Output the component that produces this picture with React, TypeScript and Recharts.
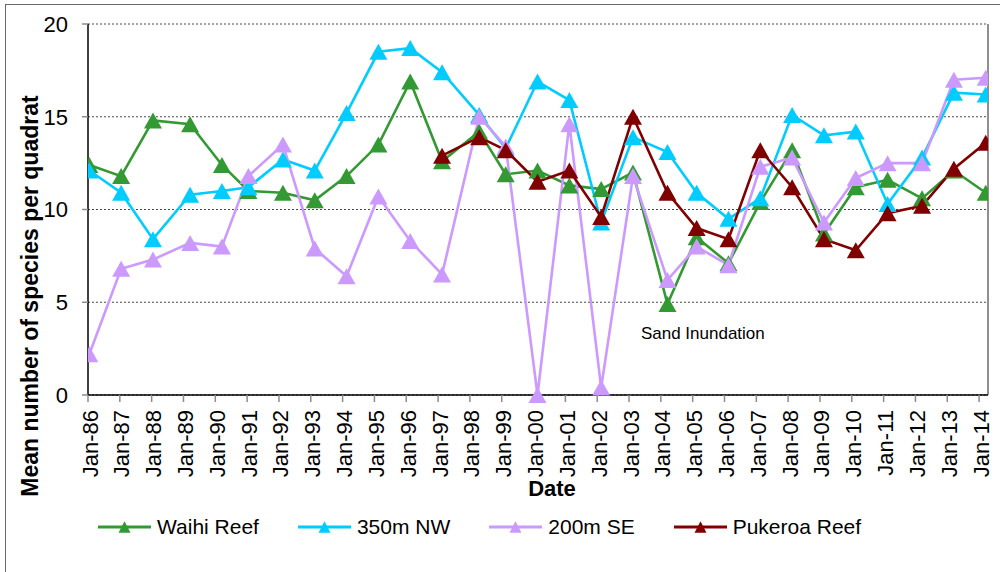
import React from 'react';
import { LineChart, Line, XAxis, YAxis, CartesianGrid, ReferenceLine, ReferenceDot } from 'recharts';

// Survey dates (YYYY-MM)
const surveyDates = [
  '1986-01', '1987-01', '1988-01', '1989-03', '1990-03', '1991-01', '1992-02', '1993-02',
  '1994-02', '1995-02', '1996-02', '1997-02', '1998-04', '1999-02', '2000-02', '2001-02',
  '2002-02', '2003-02', '2004-03', '2005-02', '2006-02', '2007-02', '2008-02', '2009-02',
  '2010-02', '2011-02', '2012-03', '2013-03', '2014-03',
];

const waihiReef = [12.4, 11.8, 14.8, 14.6, 12.4, 11.0, 10.9, 10.5, 11.8, 13.5, 16.9, 12.6, 14.2, 11.9, 12.1, 11.3, 11.1, 12.0, 4.9, 8.5, 7.1, 10.4, 13.2, 8.7, 11.2, 11.6, 10.6, 12.1, 10.9];
const nw350m = [12.1, 10.9, 8.4, 10.8, 11.0, 11.2, 12.7, 12.1, 15.2, 18.5, 18.7, 17.4, 15.1, 13.3, 16.9, 15.9, 9.3, 13.9, 13.1, 10.9, 9.5, 10.6, 15.1, 14.0, 14.2, 10.3, 12.8, 16.3, 16.2];
const se200m = [2.2, 6.8, 7.3, 8.2, 8.0, 11.8, 13.5, 7.9, 6.4, 10.7, 8.3, 6.5, 15.0, 13.4, 0.0, 14.6, 0.4, 11.8, 6.2, 8.0, 7.0, 12.3, 12.8, 9.3, 11.7, 12.5, 12.5, 17.0, 17.1];
const pukeroaReef = [null, null, null, null, null, null, null, null, null, null, null, 12.9, 13.9, 13.2, 11.5, 12.1, 9.6, 15.0, 10.9, 9.0, 8.4, 13.2, 11.2, 8.4, 7.8, 9.8, 10.2, 12.2, 13.6];

const seriesNames = ['Waihi Reef', '350m NW', '200m SE', 'Pukeroa Reef'];
const seriesKeys = ['waihi', 'nw', 'se', 'puk'];
const seriesColors = ['#339933', '#00CCFF', '#CC99FF', '#800000'];

const yTicks = [0, 5, 10, 15, 20];
const xTickYears = Array.from({ length: 29 }, (_, i) => 1986 + i);
const xDomain = [1986, 2014.28];

const annotation = { text: 'Sand Inundation', date: '2003-05', value: 3.0 };

const toYear = (s: string) => {
  const [y, m] = s.split('-').map(Number);
  return y + (m - 0.5) / 12;
};

const data = surveyDates.map((d, i) => ({
  t: toYear(d),
  waihi: waihiReef[i],
  nw: nw350m[i],
  se: se200m[i],
  puk: pukeroaReef[i],
}));

const FONT = '"Liberation Sans", Arial, sans-serif';

const makeTriangle = (color: string, w: number, h: number, dataKey: string) => (props: any) => {
  const { cx, cy, payload, index } = props;
  const k = `${dataKey}-${index}`;
  if (cx == null || cy == null || payload == null || payload[dataKey] == null || isNaN(cy)) {
    return <g key={k} />;
  }
  return (
    <path
      key={k}
      d={`M${cx},${cy - h / 2} L${cx + w / 2},${cy + h / 2} L${cx - w / 2},${cy + h / 2} Z`}
      fill={color}
    />
  );
};

const XTick = (props: any) => {
  const { x, y, payload } = props;
  const yr = String(payload.value).slice(2);
  return (
    <text
      x={x}
      y={y}
      dy={9.5}
      transform={`rotate(-90, ${x}, ${y})`}
      textAnchor="end"
      fontSize={22}
      fontFamily={FONT}
      fill="#000"
    >
      {`Jan-${yr}`}
    </text>
  );
};

const LegendItem = ({ name, color }: { name: string; color: string }) => (
  <div style={{ display: 'flex', alignItems: 'center' }}>
    <svg width={53} height={14} style={{ display: 'block' }}>
      <line x1={0} y1={7} x2={53} y2={7} stroke={color} strokeWidth={3} />
      <path d="M26.5,1.2 L32.5,12.8 L20.5,12.8 Z" fill={color} />
    </svg>
    <span style={{ marginLeft: 6, fontSize: 21, fontFamily: FONT, color: '#000', lineHeight: '24px' }}>{name}</span>
  </div>
);

export default function App() {
  return (
    <div style={{ position: 'fixed', left: 0, top: 0, width: 1000, height: 572, overflow: 'hidden', background: '#fff' }}>
      <div
        style={{
          position: 'absolute',
          left: 5,
          top: 4,
          width: 1200,
          height: 800,
          borderTop: '1px solid #6a6a6a',
          borderLeft: '1px solid #6a6a6a',
        }}
      />
      <div style={{ position: 'absolute', left: 0, top: 0 }}>
        <LineChart width={1000} height={572} data={data} margin={{ top: 24, right: 12, bottom: 77, left: 0 }}>
          <CartesianGrid vertical={false} stroke="#4a4a4a" strokeDasharray="2 2" strokeWidth={1} />
          <XAxis
            dataKey="t"
            type="number"
            domain={xDomain}
            ticks={xTickYears}
            interval={0}
            allowDataOverflow
            height={100}
            tickSize={7}
            tickMargin={8}
            tickLine={{ stroke: '#8c8c8c', strokeWidth: 1.5 }}
            axisLine={{ stroke: '#000', strokeWidth: 1.5 }}
            tick={<XTick />}
            label={(p: any) => {
              const vb = p.viewBox || { x: 88, y: 395, width: 900, height: 100 };
              return (
                <text
                  x={vb.x + vb.width / 2 + 14}
                  y={vb.y + 101}
                  textAnchor="middle"
                  fontSize={22}
                  fontWeight="bold"
                  fontFamily={FONT}
                  fill="#000"
                >
                  Date
                </text>
              );
            }}
          />
          <YAxis
            type="number"
            domain={[0, 20]}
            ticks={yTicks}
            interval={0}
            width={88}
            tickSize={6}
            tickMargin={14}
            tickLine={{ stroke: '#8c8c8c', strokeWidth: 1.5 }}
            axisLine={{ stroke: '#000', strokeWidth: 1.5 }}
            tick={{ fontSize: 22, fontFamily: FONT, fill: '#000' }}
            label={(p: any) => {
              const vb = p.viewBox || { x: 0, y: 24, width: 88, height: 371 };
              const x = vb.x + 37.5;
              const y = 296;
              return (
                <text
                  x={x}
                  y={y}
                  transform={`rotate(-90, ${x}, ${y})`}
                  textAnchor="middle"
                  fontSize={23}
                  fontWeight="bold"
                  fontFamily={FONT}
                  fill="#000"
                >
                  Mean number of species per quadrat
                </text>
              );
            }}
          />
          <ReferenceLine x={xDomain[1]} stroke="#6a6a6a" strokeWidth={1.5} />
          {seriesKeys.map((k, i) => (
            <Line
              key={k}
              type="linear"
              dataKey={k}
              name={seriesNames[i]}
              stroke={seriesColors[i]}
              strokeWidth={2.6}
              dot={makeTriangle(seriesColors[i], 18, 16, k)}
              activeDot={false}
              connectNulls={false}
              isAnimationActive={false}
            />
          ))}
          <ReferenceDot
            x={toYear(annotation.date)}
            y={annotation.value}
            r={0}
            fill="none"
            stroke="none"
            label={(p: any) => {
              const vb = p.viewBox || { x: 0, y: 0 };
              return (
                <text x={vb.x} y={vb.y} textAnchor="start" fontSize={17} fontFamily={FONT} fill="#000">
                  {annotation.text}
                </text>
              );
            }}
          />
        </LineChart>
      </div>
      <div
        style={{
          position: 'absolute',
          left: 98,
          top: 515,
          height: 24,
          display: 'flex',
          alignItems: 'center',
          gap: 39,
        }}
      >
        {seriesNames.map((n, i) => (
          <LegendItem key={n} name={n} color={seriesColors[i]} />
        ))}
      </div>
    </div>
  );
}
